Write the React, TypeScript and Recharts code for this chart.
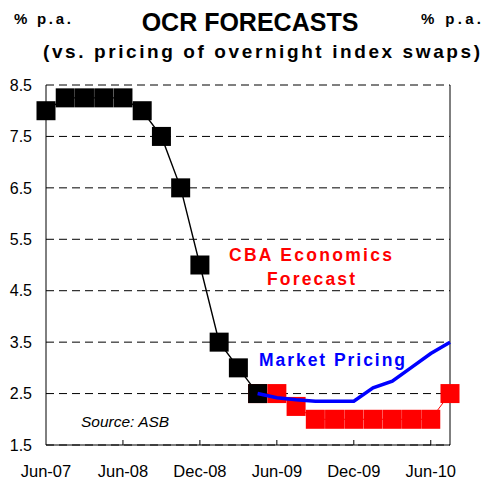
import React from 'react';
import { ComposedChart, Line, XAxis, YAxis, CartesianGrid } from 'recharts';

// Review periods (8 per year), labelled every 4th period
const periods = [0, 1, 2, 3, 4, 5, 6, 7, 8, 9, 10, 11, 12, 13, 14, 15, 16, 17, 18, 19, 20, 21];
const tickPeriods = [0, 4, 8, 12, 16, 20];
const tickLabels = ['Jun-07', 'Jun-08', 'Dec-08', 'Jun-09', 'Dec-09', 'Jun-10'];
const yTicks = [1.5, 2.5, 3.5, 4.5, 5.5, 6.5, 7.5, 8.5];

const actualOCR: (number | null)[] = [8.0, 8.25, 8.25, 8.25, 8.25, 8.0, 7.5, 6.5, 5.0, 3.5, 3.0, 2.5, null, null, null, null, null, null, null, null, null, null];
const cbaForecast: (number | null)[] = [null, null, null, null, null, null, null, null, null, null, null, 2.5, 2.5, 2.25, 2.0, 2.0, 2.0, 2.0, 2.0, 2.0, 2.0, 2.5];
const marketPricing: (number | null)[] = [null, null, null, null, null, null, null, null, null, null, null, 2.5, 2.42, 2.38, 2.35, 2.35, 2.35, 2.61, 2.74, 3.01, 3.28, 3.5];

const data = periods.map((p, k) => ({
  i: p,
  actual: actualOCR[k],
  forecast: cbaForecast[k],
  market: marketPricing[k],
}));

const FONT = '"Liberation Sans", Arial, Helvetica, sans-serif';
const SQ = 19;

const squareDot = (color: string) => (props: any) => {
  const { cx, cy, index } = props;
  if (cx == null || cy == null || Number.isNaN(cy)) return <g key={`e${index}`} />;
  return <rect key={`d${index}`} x={cx - SQ / 2} y={cy - SQ / 2} width={SQ} height={SQ} fill={color} stroke="none" />;
};

const XTick = (props: any) => {
  const { x, y, payload } = props;
  const k = tickPeriods.indexOf(payload.value);
  const label = k >= 0 ? tickLabels[k] : '';
  return (
    <g>
      {payload.value !== 0 && <line x1={x} x2={x} y1={y} y2={y - 5} stroke="#000" strokeWidth={1} />}
      <text x={x} y={y + 32} textAnchor="middle" fontSize={16.5} fontFamily={FONT} fill="#000">{label}</text>
    </g>
  );
};

export default function App() {
  return (
    <div style={{ position: 'absolute', left: 0, top: 0, width: 501, height: 483, background: '#fff', fontFamily: FONT }}>
      <ComposedChart width={501} height={483} data={data} margin={{ top: 85, right: 0, bottom: 8, left: 0 }}>
        <CartesianGrid horizontal vertical={false} stroke="#000" strokeDasharray="8 5" yAxisId="left" />
        <XAxis
          dataKey="i"
          type="number"
          domain={[0, 21]}
          ticks={tickPeriods}
          tick={<XTick />}
          tickLine={false}
          tickSize={0}
          tickMargin={0}
          height={30}
          axisLine={{ stroke: '#000', strokeWidth: 1 }}
          interval={0}
        />
        <YAxis
          yAxisId="left"
          orientation="left"
          domain={[1.5, 8.5]}
          ticks={yTicks}
          width={46}
          tickLine={false}
          tickSize={6}
          tickMargin={8}
          interval={0}
          axisLine={{ stroke: '#000', strokeWidth: 1 }}
          tick={{ fontSize: 16, fill: '#000', fontFamily: FONT }}
        />
        <YAxis
          yAxisId="right"
          orientation="right"
          domain={[1.5, 8.5]}
          ticks={yTicks}
          width={51}
          tickLine={false}
          tickSize={6}
          tickMargin={9}
          interval={0}
          axisLine={{ stroke: '#000', strokeWidth: 1 }}
          tick={{ fontSize: 16, fill: '#000', fontFamily: FONT, textAnchor: 'start' }}
        />
        <Line yAxisId="left" dataKey="forecast" stroke="#FF0000" strokeWidth={1} dot={squareDot('#FF0000')} isAnimationActive={false} type="linear" />
        <Line yAxisId="left" dataKey="actual" stroke="#000" strokeWidth={1.4} dot={squareDot('#000')} isAnimationActive={false} type="linear" />
      </ComposedChart>
      {/* Overlay chart with identical plot area so the market line is drawn above the squares */}
      <div style={{ position: 'absolute', left: 0, top: 0, pointerEvents: 'none' }}>
        <ComposedChart width={501} height={483} data={data} margin={{ top: 85, right: 51, bottom: 38, left: 46 }}>
          <XAxis dataKey="i" type="number" domain={[0, 21]} hide />
          <YAxis yAxisId="left" domain={[1.5, 8.5]} hide />
          <Line yAxisId="left" dataKey="market" stroke="#0000FF" strokeWidth={3.5} dot={false} isAnimationActive={false} type="linear" />
        </ComposedChart>
      </div>
      <svg width={501} height={483} style={{ position: 'absolute', left: 0, top: 0, pointerEvents: 'none' }}>
        <text x={14} y={24} fontSize={15} fontWeight="bold" fontFamily={FONT} textLength={57} lengthAdjust="spacing">% p.a.</text>
        <text x={421} y={24} fontSize={15} fontWeight="bold" fontFamily={FONT} textLength={60} lengthAdjust="spacing">% p.a.</text>
        <text x={250} y={31} fontSize={25} fontWeight="bold" fontFamily={FONT} textAnchor="middle">OCR FORECASTS</text>
        <text x={43} y={58} fontSize={19} fontWeight="bold" fontFamily={FONT} textLength={437} lengthAdjust="spacing">(vs. pricing of overnight index swaps)</text>
        <text x={229} y={261} fontSize={17.5} fontWeight="bold" fontFamily={FONT} fill="#FF0000" textLength={163} lengthAdjust="spacing">CBA Economics</text>
        <text x={267} y={285} fontSize={17.5} fontWeight="bold" fontFamily={FONT} fill="#FF0000" textLength={88} lengthAdjust="spacing">Forecast</text>
        <text x={259} y={366} fontSize={17.5} fontWeight="bold" fontFamily={FONT} fill="#0000FF" textLength={146} lengthAdjust="spacing">Market Pricing</text>
        <text x={81} y={427} fontSize={15.5} fontStyle="italic" fontFamily={FONT} fill="#000">Source: ASB</text>
      </svg>
    </div>
  );
}
